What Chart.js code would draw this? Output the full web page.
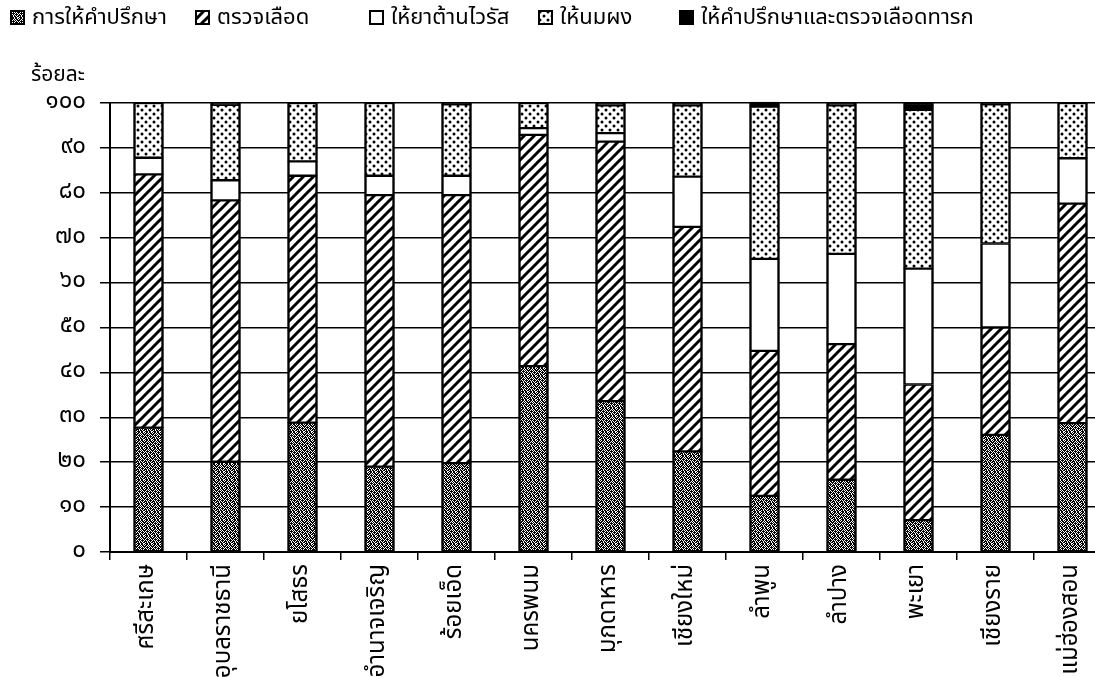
<!DOCTYPE html>
<html>
<head>
<meta charset="utf-8">
<script src="https://cdn.jsdelivr.net/npm/chart.js@4.4.1/dist/chart.umd.min.js"></script>
<style>
html,body{margin:0;padding:0;background:#fff;overflow:hidden;width:1095px;height:677px;position:relative;}
#wrap{position:absolute;left:0;top:0;width:1112px;height:677px;}
.item{position:absolute;top:1px;display:flex;align-items:center;white-space:nowrap;
  font-family:"Noto Sans Thai","Noto Sans","DejaVu Sans",sans-serif;font-size:22px;color:#000;}
.item canvas{margin-right:7px;}
#ytitle{position:absolute;left:31px;top:59px;font-family:"Noto Sans Thai","Noto Sans","DejaVu Sans",sans-serif;font-size:21px;color:#000;}
</style>
</head>
<body>
<div id="wrap"><canvas id="c" width="1112" height="677"></canvas></div>
<div id="legend"></div>
<div id="ytitle">ร้อยละ</div>
<script>
// ---------- data ----------
const provinces = ['ศรีสะเกษ','อุบลราชธานี','ยโสธร','อำนาจเจริญ','ร้อยเอ็ด','นครพนม','มุกดาหาร','เชียงใหม่','ลำพูน','ลำปาง','พะเยา','เชียงราย','แม่ฮ่องสอน'];
const seriesNames = ['การให้คำปรึกษา','ตรวจเลือด','ให้ยาต้านไวรัส','ให้นมผง','ให้คำปรึกษาและตรวจเลือดทารก'];
const counseling = [27.7, 20.1, 28.8, 19.0, 19.8, 41.4, 33.6, 22.4, 12.5, 16.1, 7.1, 26.1, 28.7];
const bloodTest  = [56.4, 58.2, 55.0, 60.5, 59.7, 51.5, 57.8, 50.0, 32.3, 30.2, 30.2, 23.9, 48.9];
const antiviral  = [3.7, 4.5, 3.2, 4.3, 4.3, 1.5, 1.9, 11.2, 20.5, 20.1, 25.8, 18.7, 10.1];
const formulaMilk= [12.2, 16.8, 13.0, 16.2, 15.9, 5.6, 6.2, 15.9, 33.9, 33.1, 35.4, 31.0, 12.3];
const infantTest = [0, 0.4, 0, 0, 0.3, 0, 0.5, 0.5, 1.0, 0.5, 1.5, 0.3, 0];
const yTickValues = [0,10,20,30,40,50,60,70,80,90,100];

const FONT = '"Noto Sans Thai","Noto Sans","DejaVu Sans",sans-serif';
const thaiDigits = '๐๑๒๓๔๕๖๗๘๙';
const toThai = n => String(n).replace(/[0-9]/g, d => thaiDigits[+d]);

// ---------- patterns ----------
function tile(size, draw){
  const t = document.createElement('canvas');
  t.width = size; t.height = size;
  const g = t.getContext('2d');
  g.fillStyle = '#fff'; g.fillRect(0,0,size,size);
  draw(g, size);
  return t;
}
const stippleMap = [
  "10110110",
  "01101011",
  "11010101",
  "10111010",
  "01010111",
  "11101010",
  "10101101",
  "01110110"
];
const tStipple = tile(8, (g)=>{
  g.fillStyle = '#000';
  stippleMap.forEach((row,y)=>{ for(let x=0;x<row.length;x++){ if(row[x]==='1') g.fillRect(x,y,1,1); } });
});
const tHatch = tile(10, (g,s)=>{
  g.strokeStyle = '#000'; g.lineWidth = 3; g.lineCap='square';
  for (const x0 of [-s, 0, s]) { g.beginPath(); g.moveTo(x0, s); g.lineTo(x0 + s, 0); g.stroke(); }
});
const tDots = tile(8, (g)=>{
  g.fillStyle = '#000';
  [[2,2],[6,6]].forEach(([x,y])=>{ g.beginPath(); g.arc(x,y,1.5,0,Math.PI*2); g.fill(); });
});
const tiles = [tStipple, tHatch, null, tDots, null];
const ctx = document.getElementById('c').getContext('2d');
const fills = [
  ctx.createPattern(tStipple,'repeat'),
  ctx.createPattern(tHatch,'repeat'),
  '#ffffff',
  ctx.createPattern(tDots,'repeat'),
  '#000000'
];
const values = [counseling, bloodTest, antiviral, formulaMilk, infantTest];

// ---------- legend (HTML) ----------
const legendLeft = [10, 195, 369, 538, 679];
const legend = document.getElementById('legend');
seriesNames.forEach((name,i)=>{
  const it = document.createElement('div'); it.className='item';
  it.style.left = legendLeft[i] + 'px';
  const b = document.createElement('canvas'); b.width=15; b.height=15;
  const bg = b.getContext('2d');
  bg.fillStyle = tiles[i] ? bg.createPattern(tiles[i],'repeat') : fills[i];
  bg.fillRect(0,0,15,15);
  bg.strokeStyle='#000'; bg.lineWidth=2; bg.strokeRect(1,1,13,13);
  const s = document.createElement('span'); s.textContent = name;
  it.appendChild(b); it.appendChild(s); legend.appendChild(it);
});

// ---------- chart ----------
Chart.defaults.font.family = FONT;
Chart.defaults.color = '#000';
new Chart(ctx, {
  type: 'bar',
  data: {
    labels: provinces,
    datasets: seriesNames.map((n,i)=>({
      label: n,
      data: values[i],
      backgroundColor: fills[i],
      borderColor: '#000',
      borderWidth: {top:1.5, bottom:1.5, left:2.5, right:2.5},
      borderSkipped: false,
      barThickness: 30,
      clip: false
    }))
  },
  options: {
    responsive: false,
    animation: false,
    layout: { padding: { top: 103, right: 1, left: 0, bottom: 0 } },
    plugins: { legend: { display: false }, tooltip: { enabled: false } },
    scales: {
      x: {
        stacked: true,
        offset: true,
        grid: { drawOnChartArea: false, drawTicks: true, tickLength: 8, color: '#000', lineWidth: 1.5, offset: true },
        border: { display: true, color: '#000', width: 2 },
        ticks: { minRotation: 90, maxRotation: 90, autoSkip: false, padding: 4, font: { size: 24 }, color: '#000' },
        afterFit: s => { s.height = 125; }
      },
      y: {
        stacked: true,
        min: 0, max: 100,
        afterBuildTicks: s => { s.ticks = yTickValues.map(v => ({ value: v })); },
        ticks: { callback: v => toThai(v), padding: 14, font: { size: 24 }, color: '#000' },
        grid: { color: '#000', lineWidth: 1.5, tickLength: 10 },
        border: { display: true, color: '#000', width: 2 },
        afterFit: s => { s.width = 110; }
      }
    }
  }
});
</script>
</body>
</html>
